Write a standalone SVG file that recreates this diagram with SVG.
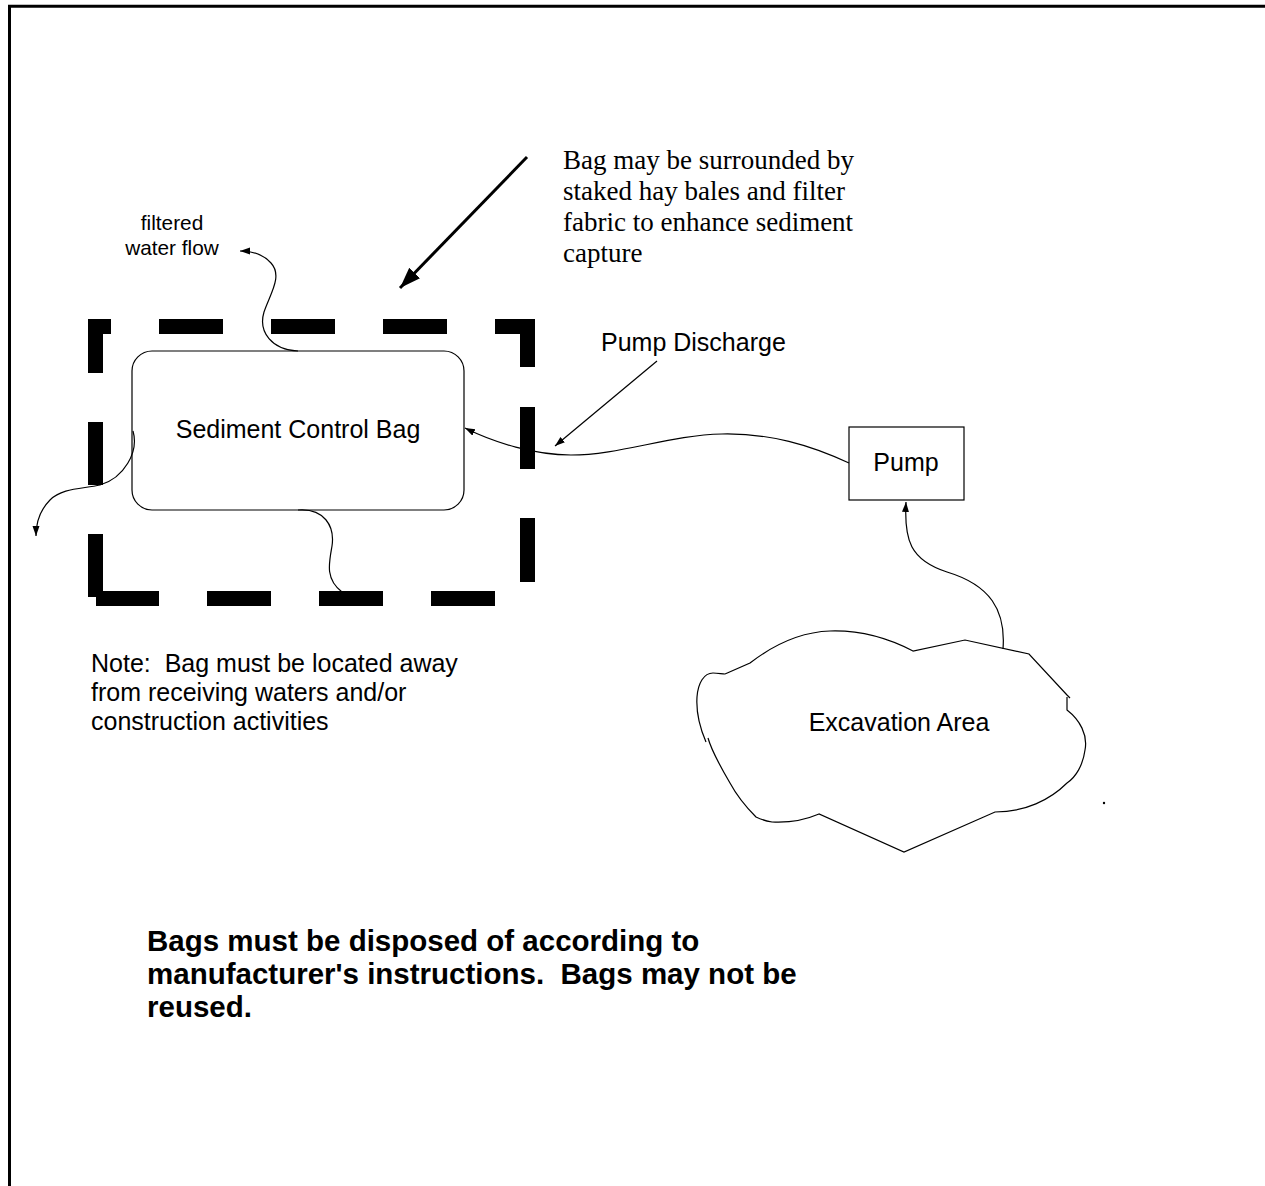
<svg xmlns="http://www.w3.org/2000/svg" width="1265" height="1186" viewBox="0 0 1265 1186">
<style>
.thin{fill:none;stroke:#000;stroke-width:1.2}
.sans{font-family:"Liberation Sans",Arial,sans-serif;fill:#000;white-space:pre}
.serif{font-family:"Liberation Serif","Times New Roman",serif;fill:#000}
.dash{fill:#000}
</style>
<defs>
<marker id="ah" markerUnits="userSpaceOnUse" markerWidth="12" markerHeight="10" refX="10" refY="3.5" orient="auto">
<path d="M0,0 L10,3.5 L0,7 z" fill="#000"/>
</marker>
<marker id="ahBig" markerUnits="userSpaceOnUse" markerWidth="24" markerHeight="18" refX="21" refY="7.5" orient="auto">
<path d="M0,0 L21,7.5 L0,15 z" fill="#000"/>
</marker>
</defs>
<rect width="1265" height="1186" fill="#fff"/>
<g id="border">
<path d="M9.5,1186 V6.2 H1265" fill="none" stroke="#000" stroke-width="3"/>
</g>
<g id="hay-bale-barrier">
<rect class="dash" x="88" y="319" width="23" height="15"/>
<rect class="dash" x="88" y="319" width="15" height="54"/>
<rect class="dash" x="159" y="319" width="64" height="15"/>
<rect class="dash" x="271" y="319" width="64" height="15"/>
<rect class="dash" x="383" y="319" width="64" height="15"/>
<rect class="dash" x="495" y="319" width="40" height="15"/>
<rect class="dash" x="520" y="319" width="15" height="48"/>
<rect class="dash" x="520" y="407" width="15" height="62"/>
<rect class="dash" x="520" y="518" width="15" height="64"/>
<rect class="dash" x="88" y="422" width="15" height="63"/>
<rect class="dash" x="88" y="534" width="15" height="63"/>
<rect class="dash" x="96" y="591" width="63" height="15"/>
<rect class="dash" x="207" y="591" width="64" height="15"/>
<rect class="dash" x="319" y="591" width="64" height="15"/>
<rect class="dash" x="431" y="591" width="64" height="15"/>
</g>
<g id="sediment-bag">
<rect x="132" y="351" width="332" height="159" rx="20" ry="20" fill="none" stroke="#000" stroke-width="1.2"/>
<text class="sans" x="298" y="438" font-size="25" text-anchor="middle">Sediment Control Bag</text>
</g>
<g id="pump">
<rect x="849" y="427" width="115" height="73" fill="none" stroke="#000" stroke-width="1.2"/>
<text class="sans" x="906" y="471" font-size="25" text-anchor="middle">Pump</text>
</g>
<g id="excavation-area">
<path class="thin" d="M725,674 L750,663 C772,646 800,632 830,631 C860,630 888,638 913,651 L965,640 L1029,654 L1067,695 L1070,698 M1067,697 L1067,710 C1080,720 1088,735 1085,750 C1083,765 1076,777 1067,783 C1050,800 1025,812 995,812 L904,852 L819,814 C805,820 790,823 772,822 C766,821 760,819 756,817 C746,807 737,796 730,783 C720,766 712,752 708,738 M706,742 C700,728 696,712 697,697 C698,683 704,673 713,673 C718,673 722,674 725,674"/>
<text class="sans" x="899" y="731" font-size="25" text-anchor="middle">Excavation Area</text>
<circle cx="1104" cy="803" r="1.2" fill="#000"/>
</g>
<g id="connectors">
<path class="thin" d="M298,351 C272,350 258,332 264,312 C270,294 283,276 271,263 C263,254 253,251 240,251" marker-end="url(#ah)"/>
<path class="thin" d="M133,431 C139,452 124,478 100,485 C82,489 62,488 50,500 C40,510 36,522 36,536" marker-end="url(#ah)"/>
<path class="thin" d="M298,510 C324,508 335,526 332,546 C329,563 325,579 342,592"/>
<path class="thin" d="M849,463 C810,445 770,433 722,434 C670,435 620,455 571,455 C535,455 495,443 465,428" marker-end="url(#ah)"/>
<path class="thin" d="M657,361 L555,446" marker-end="url(#ah)"/>
<path class="thin" d="M1003,649 C1006,610 990,585 947,572 C910,560 904,540 906,502" marker-end="url(#ah)"/>
<path d="M527,157 L400,288" fill="none" stroke="#000" stroke-width="3" marker-end="url(#ahBig)"/>
</g>
<g id="labels">
<text class="sans" font-size="20.8" text-anchor="middle"><tspan x="172" y="230">filtered</tspan><tspan x="172" y="255">water flow</tspan></text>
<text class="sans" x="601" y="351" font-size="25">Pump Discharge</text>
<text class="serif" font-size="27"><tspan x="563" y="169">Bag may be surrounded by</tspan><tspan x="563" y="200">staked hay bales and filter</tspan><tspan x="563" y="231">fabric to enhance sediment</tspan><tspan x="563" y="262">capture</tspan></text>
<text class="sans" font-size="25" xml:space="preserve"><tspan x="91" y="672">Note:  Bag must be located away</tspan><tspan x="91" y="701">from receiving waters and/or</tspan><tspan x="91" y="730">construction activities</tspan></text>
<text class="sans" font-size="29.5" font-weight="bold" xml:space="preserve"><tspan x="147" y="951">Bags must be disposed of according to</tspan><tspan x="147" y="984">manufacturer's instructions.  Bags may not be</tspan><tspan x="147" y="1017">reused.</tspan></text>
</g>
</svg>
